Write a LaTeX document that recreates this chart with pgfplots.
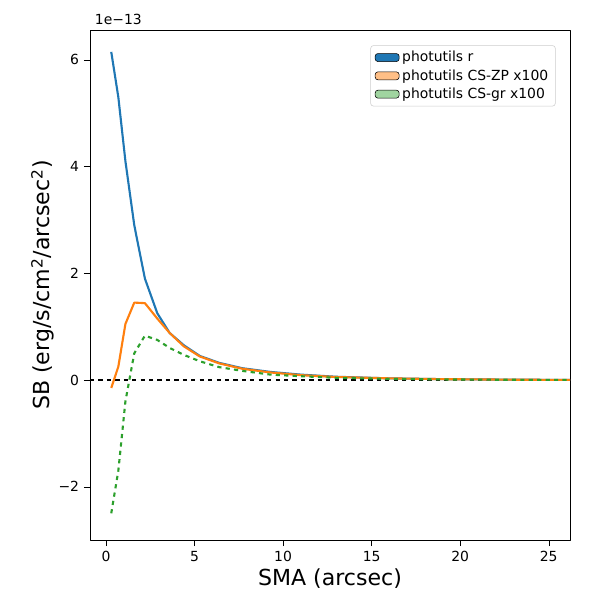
\documentclass[border=0pt]{standalone}
\usepackage{pgfplots}
\pgfplotsset{compat=1.18}
\usepackage{fontspec}
\setmainfont{DejaVu Sans}
\definecolor{tblue}{HTML}{1F77B4}
\definecolor{torange}{HTML}{FF7F0E}
\definecolor{tgreen}{HTML}{2CA02C}
\begin{document}
\begin{tikzpicture}
\path[use as bounding box] (-2.25cm,-1.5cm) rectangle (12.75cm,13.5cm);
\begin{axis}[at={(0,0)},anchor=south west,scale only axis,width=12cm,height=12.75cm,
 xmin=-0.9,xmax=26.2,ymin=-3.0,ymax=6.56,
 xtick={0,5,10,15,20,25},ytick={-2,0,2,4,6},
 yticklabels={−2,0,2,4,6},
 xtick pos=bottom, ytick pos=left,
 tick align=outside, tick style={black},
 ticklabel style={font=\fontsize{9.9}{12}\selectfont},
 /pgf/number format/assume math mode=true,
 xlabel={SMA (arcsec)}, ylabel={SB (erg/s/cm\textsuperscript{2}/arcsec\textsuperscript{2})},
 label style={font=\fontsize{15.7}{18}\selectfont},
 xlabel style={yshift=2pt}, ylabel style={yshift=-4pt},
 legend pos=north east, legend cell align=left,
 legend style={font=\fontsize{9.9}{12}\selectfont, draw=black!20, rounded corners=2pt},
 area legend, line join=round]
\addlegendimage{draw=none,fill=tblue}
\addlegendentry{photutils r}
\addlegendimage{draw=none,fill=torange!50}
\addlegendentry{photutils CS-ZP x100}
\addlegendimage{draw=none,fill=tgreen!45}
\addlegendentry{photutils CS-gr x100}
\addplot[black,dashed,thick,forget plot] coordinates {(-0.9,0) (26.2,0)};
\addplot[tblue,line width=1.5pt,forget plot] coordinates {(0.3,6.15) (0.7,5.3) (1.1,4.1) (1.6,2.9) (2.2,1.9) (2.9,1.25) (3.6,0.88) (4.4,0.65) (5.3,0.45) (6.4,0.32) (7.7,0.22) (9.3,0.15) (11,0.1) (13,0.06) (16,0.03) (19,0.015) (23,0.005) (26.5,0)};
\addplot[torange,line width=1.5pt,forget plot] coordinates {(0.3,-0.15) (0.7,0.25) (1.1,1.05) (1.6,1.45) (2.2,1.44) (2.9,1.15) (3.6,0.88) (4.4,0.63) (5.3,0.44) (6.4,0.31) (7.7,0.21) (9.3,0.14) (11,0.09) (13,0.055) (16,0.03) (19,0.015) (23,0.005) (26.5,0)};
\addplot[tgreen,line width=1.5pt,dashed,forget plot] coordinates {(0.3,-2.5) (0.7,-1.7) (1.1,-0.4) (1.6,0.5) (2.2,0.83) (2.9,0.75) (3.6,0.6) (4.4,0.47) (5.3,0.35) (6.4,0.24) (7.7,0.17) (9.3,0.1) (11,0.07) (13,0.04) (16,0.02) (19,0.01) (23,0.003) (26.5,0)};
\end{axis}
\node[anchor=south west,font=\fontsize{9.9}{12}\selectfont] at (0,12.75cm) {1e−13};
\end{tikzpicture}
\end{document}
